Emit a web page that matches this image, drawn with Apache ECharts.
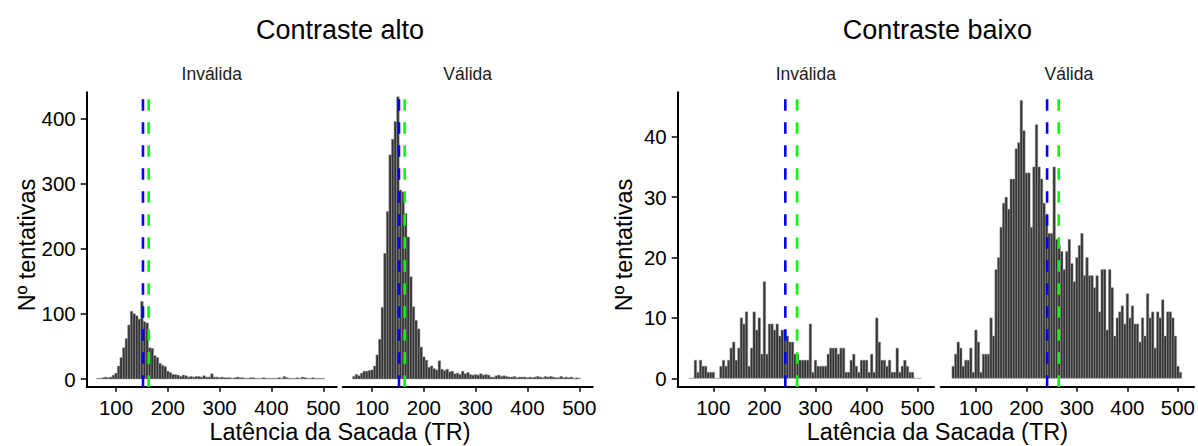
<!DOCTYPE html>
<html>
<head>
<meta charset="utf-8">
<script src="https://cdn.jsdelivr.net/npm/echarts@6/dist/echarts.min.js"></script>
<style>
html,body{margin:0;padding:0;background:#fff;}
#chart{width:1198px;height:446px;}
</style>
</head>
<body>
<div id="chart"></div>
<script>
// ---------- data ----------
const panelTitles = ['Contraste alto', 'Contraste baixo'];
const facetLabels = ['Inválida', 'Válida'];
const xAxisTitle = 'Latência da Sacada (TR)';
const yAxisTitle = 'Nº tentativas';

const binWidth = 5;
const binStartAlto = 62.5;
const binStartBaixo = 52.5;

const altoInvalida = [1,1,2,3,2,3,6,9,20,33, 48,62,83,104,100,97,92,119,88,86, 48,47,36,33,24,21,19,12,10,7, 7,6,4,6,5,3,4,3,4,4, 3,5,3,3,8,3,3,2,3,2, 2,2,1,2,3,2,2,1,1,2, 2,1,1,1,2,1,1,1,1,1, 2,1,4,2,1,1,1,2,1,3, 2,1,1,2,1,1,1,1];
const altoValida = [4,7,5,9,12,12,13,14,20,37, 61,110,193,257,344,368,395,433,290,287, 254,218,157,111,90,77,49,34,29,18, 20,16,14,28,15,13,15,11,12,8, 9,7,12,8,10,7,6,7,6,8, 6,7,6,3,3,5,6,4,5,4, 3,3,4,2,3,3,3,2,3,2, 3,4,3,2,4,3,4,3,2,2, 4,2,3,2,3,1,2,1];
const baixoInvalida = [0,0,3,1,3,2,2,1,1,1, 0,0,2,3,2,3,5,6,3,5, 10,9,11,2,5,11,8,10,4,16, 4,9,9,8,9,7,8,8,7,6, 6,4,4,3,3,3,3,9,1,3, 2,2,2,2,4,5,5,5,4,5, 5,1,1,3,4,2,1,3,3,3, 1,4,1,10,6,3,3,2,3,1, 1,5,1,2,3,2,1,1,0,0, 0];
const baixoValida = [2,4,6,5,2,3,3,5,1,8, 6,1,4,4,4,10,7,18,20,25, 29,30,28,33,33,38,39,46,41,34, 34,25,35,42,35,33,29,27,24,24, 35,23,22,21,18,21,23,19,16,20, 22,24,17,20,17,17,15,17,11,18, 18,8,18,15,7,10,11,12,9,14, 10,12,9,9,6,10,7,14,10,11, 5,11,10,13,7,11,11,10,7,2, 1];

// reference lines (blue, green)
const altoLines = [152, 163];
const baixoLines = [241, 264];

const xTicks = [100, 200, 300, 400, 500];
const yTicksAlto = [0, 100, 200, 300, 400];
const yTicksBaixo = [0, 10, 20, 30, 40];

const xRangeAlto = [43.4, 525.9];
const xRangeBaixo = [30.3, 532];
const yRangeAlto = [-11.8, 440];
const yRangeBaixo = [-1.39, 47.35];

// ---------- chart ----------
const FONT = '"Liberation Sans", Arial, sans-serif';
const chart = echarts.init(document.getElementById('chart'), null, {renderer: 'svg'});

const panels = [
  {grid: {left: 86.7, top: 92.3, width: 250, height: 294.4}, counts: altoInvalida, start: binStartAlto, xr: xRangeAlto, yr: yRangeAlto, yt: yTicksAlto, showY: true, lines: altoLines},
  {grid: {left: 342.7, top: 92.3, width: 250, height: 294.4}, counts: altoValida, start: binStartAlto, xr: xRangeAlto, yr: yRangeAlto, yt: yTicksAlto, showY: false, lines: altoLines},
  {grid: {left: 677.7, top: 92.3, width: 256.3, height: 294.4}, counts: baixoInvalida, start: binStartBaixo, xr: xRangeBaixo, yr: yRangeBaixo, yt: yTicksBaixo, showY: true, lines: baixoLines},
  {grid: {left: 940.7, top: 92.3, width: 256.3, height: 294.4}, counts: baixoValida, start: binStartBaixo, xr: xRangeBaixo, yr: yRangeBaixo, yt: yTicksBaixo, showY: false, lines: baixoLines}
];

const lineColors = ['#0000FF', '#00FF00'];

const grids = [], xAxes = [], yAxes = [], series = [];
panels.forEach((p, k) => {
  grids.push(Object.assign({containLabel: false}, p.grid));
  xAxes.push({
    gridIndex: k, type: 'value', min: p.xr[0], max: p.xr[1],
    axisLine: {show: true, onZero: false, lineStyle: {color: '#000', width: 2}},
    axisTick: {show: true, customValues: xTicks, length: 5, lineStyle: {color: '#000', width: 1.5}},
    axisLabel: {show: true, customValues: xTicks, fontSize: 20.5, color: '#000', fontFamily: FONT, margin: 10},
    splitLine: {show: false}
  });
  yAxes.push({
    gridIndex: k, type: 'value', min: p.yr[0], max: p.yr[1], show: p.showY,
    axisLine: {show: true, onZero: false, lineStyle: {color: '#000', width: 2}},
    axisTick: {show: true, customValues: p.yt, length: 6, lineStyle: {color: '#000', width: 1.5}},
    axisLabel: {show: true, customValues: p.yt, fontSize: 20.5, color: '#000', fontFamily: FONT, margin: 11},
    splitLine: {show: false}
  });
  const data = p.counts.map((c, i) => [p.start + i * binWidth, p.start + (i + 1) * binWidth, c]);
  series.push({
    type: 'custom', xAxisIndex: k, yAxisIndex: k, silent: true,
    encode: {x: [0, 1], y: 2},
    data: data,
    renderItem: function (params, api) {
      const a = api.coord([api.value(0), api.value(2)]);
      const b = api.coord([api.value(1), 0]);
      return {
        type: 'rect',
        shape: {x: a[0], y: a[1], width: b[0] - a[0], height: b[1] - a[1]},
        style: {fill: '#333333', stroke: '#9a9a9a', lineWidth: 0.5}
      };
    },
    z: 2
  });
  p.lines.forEach((v, j) => {
    series.push({
      type: 'line', xAxisIndex: k, yAxisIndex: k, silent: true,
      data: [[v, p.yr[0]], [v, p.yr[1]]],
      symbol: 'none',
      lineStyle: {color: lineColors[j], width: 2.6, type: [11.5, 11.5]},
      z: 5, animation: false
    });
  });
});

const graphics = [];
function txt(text, x, y, size, color, rot) {
  graphics.push({
    type: 'text', x: x, y: y, rotation: rot || 0,
    style: {text: text, font: size + 'px ' + FONT, fill: color, textAlign: 'center', textVerticalAlign: 'middle'}
  });
}
txt(panelTitles[0], 340, 30, 27, '#000');
txt(panelTitles[1], 937.4, 30, 27, '#000');
txt(facetLabels[0], 211.7, 74, 17.5, '#1a1a1a');
txt(facetLabels[1], 467.7, 74, 17.5, '#1a1a1a');
txt(facetLabels[0], 805.8, 74, 17.5, '#1a1a1a');
txt(facetLabels[1], 1068.8, 74, 17.5, '#1a1a1a');
txt(xAxisTitle, 340, 432, 23.5, '#000');
txt(xAxisTitle, 937.4, 432, 23.5, '#000');
txt(yAxisTitle, 27, 245, 23.5, '#000', Math.PI / 2);
txt(yAxisTitle, 624, 245, 23.5, '#000', Math.PI / 2);

chart.setOption({
  animation: false,
  backgroundColor: '#fff',
  grid: grids,
  xAxis: xAxes,
  yAxis: yAxes,
  series: series,
  graphic: graphics
});
</script>
</body>
</html>
